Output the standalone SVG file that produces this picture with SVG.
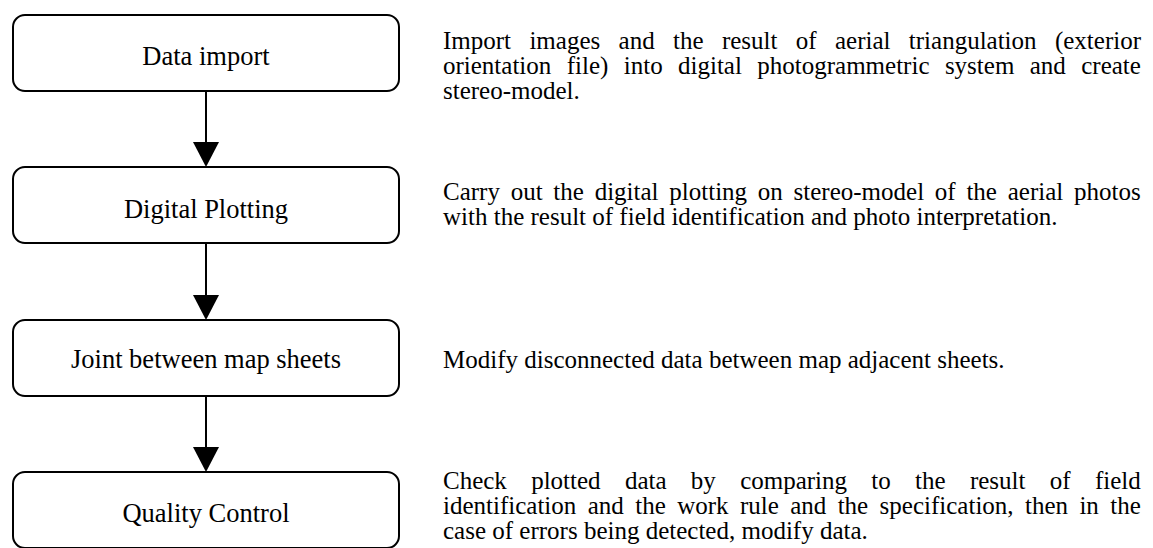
<svg xmlns="http://www.w3.org/2000/svg" width="1153" height="548" viewBox="0 0 1153 548">
  <style>
    .box { fill: #ffffff; stroke: #000000; stroke-width: 2; }
    .label { font-family: "Liberation Serif", "Times New Roman", serif; font-size: 26.5px; fill: #000000; text-anchor: middle; }
    .desc { font-family: "Liberation Serif", "Times New Roman", serif; font-size: 25px; fill: #000000; }
    .link { stroke: #000000; stroke-width: 2; fill: none; marker-end: url(#arrow); }
  </style>
  <defs>
    <marker id="arrow" markerUnits="userSpaceOnUse" viewBox="0 0 25 26" markerWidth="25" markerHeight="26" refX="13" refY="13" orient="auto">
      <path d="M0,0 L25,13 L0,26 Z" fill="#000000"/>
    </marker>
  </defs>
  <rect width="1153" height="548" fill="#ffffff"/>

  <!-- process steps -->
  <g id="step-data-import">
    <rect class="box" x="13" y="15" width="386" height="76" rx="12" ry="12"/>
    <text class="label" x="206" y="65">Data import</text>
  </g>
  <g id="step-digital-plotting">
    <rect class="box" x="13" y="167" width="386" height="76" rx="12" ry="12"/>
    <text class="label" x="206" y="218">Digital Plotting</text>
  </g>
  <g id="step-joint">
    <rect class="box" x="13" y="320" width="386" height="76" rx="12" ry="12"/>
    <text class="label" x="206" y="368">Joint between map sheets</text>
  </g>
  <g id="step-quality-control">
    <rect class="box" x="13" y="472" width="386" height="76" rx="12" ry="12"/>
    <text class="label" x="206" y="522">Quality Control</text>
  </g>

  <!-- flow arrows -->
  <g id="connectors">
    <line class="link" x1="206" y1="91" x2="206" y2="155"/>
    <line class="link" x1="206" y1="243" x2="206" y2="308"/>
    <line class="link" x1="206" y1="396" x2="206" y2="460"/>
  </g>

  <!-- step descriptions (justified lines use word-spacing to reach x=1141) -->
  <g id="desc-data-import">
    <text class="desc" x="443" y="49" word-spacing="12.1">Import images and the result of aerial triangulation (exterior</text>
    <text class="desc" x="443" y="74" word-spacing="9.15">orientation file) into digital photogrammetric system and create</text>
    <text class="desc" x="443" y="99">stereo-model.</text>
  </g>
  <g id="desc-digital-plotting">
    <text class="desc" x="443" y="200" word-spacing="4.5">Carry out the digital plotting on stereo-model of the aerial photos</text>
    <text class="desc" x="443" y="225">with the result of field identification and photo interpretation.</text>
  </g>
  <g id="desc-joint">
    <text class="desc" x="443" y="368">Modify disconnected data between map adjacent sheets.</text>
  </g>
  <g id="desc-quality-control">
    <text class="desc" x="443" y="489" word-spacing="18.05">Check plotted data by comparing to the result of field</text>
    <text class="desc" x="443" y="514" word-spacing="5.15">identification and the work rule and the specification, then in the</text>
    <text class="desc" x="443" y="539">case of errors being detected, modify data.</text>
  </g>
</svg>
